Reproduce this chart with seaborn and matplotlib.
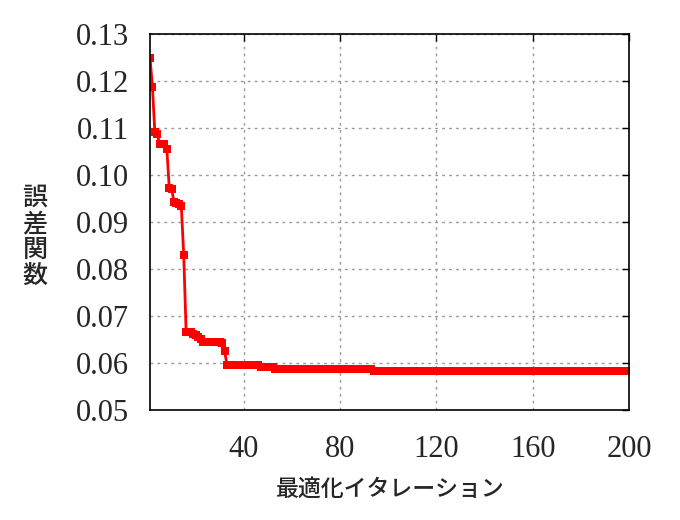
import numpy as np
import pandas as pd
import matplotlib
matplotlib.use("Agg")
import matplotlib.pyplot as plt
import seaborn as sns

## Error value per optimisation iteration (run-length form)
levels = [0.1250, 0.1188, 0.1092, 0.1088, 0.1065, 0.1055, 0.0972, 0.0970,
          0.0942, 0.0940, 0.0938, 0.0935, 0.0830, 0.0667, 0.0665, 0.0662,
          0.0660, 0.0655, 0.0652, 0.0645, 0.0643, 0.0625, 0.0596, 0.0591,
          0.0588, 0.0584]
runs = [1, 1, 1, 1, 3, 1, 1, 1,
        1, 1, 1, 1, 1, 2, 1, 1,
        1, 1, 1, 8, 1, 1, 14, 6,
        41, 107]
errors = np.repeat(levels, runs)
iterations = np.arange(1, len(errors) + 1)

x_ticks = [40, 80, 120, 160, 200]
y_ticks = [0.05, 0.06, 0.07, 0.08, 0.09, 0.10, 0.11, 0.12, 0.13]
x_label = "最適化イタレーション"
y_label = "誤差関数"

df = pd.DataFrame({"iteration": iterations, "error": errors})

sns.set_theme(style="white")
plt.rcParams["font.family"] = ["Liberation Serif", "DejaVu Serif"]
plt.rcParams["xtick.direction"] = "in"
plt.rcParams["ytick.direction"] = "in"

fig = plt.figure(figsize=(6.8, 5.2), dpi=100)
ax = fig.add_axes([0.2206, 0.2115, 0.7044, 0.7231])

sns.lineplot(data=df, x="iteration", y="error", ax=ax, color="#ff0000",
             linewidth=2, marker="s", markersize=5.5,
             markeredgewidth=0, markerfacecolor="#ff0000")

ax.set_xlim(1, 200)
ax.set_ylim(0.05, 0.13)
ax.set_xticks(x_ticks)
ax.set_yticks(y_ticks)
ax.set_xticklabels([str(t) for t in x_ticks])
ax.set_yticklabels([f"{t:.2f}" for t in y_ticks])
ax.tick_params(axis="both", which="both", labelsize=22, length=5, width=1,
               color="black", top=True, right=True)
ax.tick_params(axis="y", pad=15)
ax.tick_params(axis="x", pad=18)
for s in ax.spines.values():
    s.set_color("black")
    s.set_linewidth(1.2)
ax.grid(True, color="#999999", linestyle=(0, (2, 3)), linewidth=1)
ax.set_xlabel("")
ax.set_ylabel("")

cjk = ["Noto Sans CJK JP", "DejaVu Sans"]
fig.text(390 / 680, 1 - 489 / 520, x_label, ha="center", va="center",
         fontsize=16.5, family=cjk, weight="medium")
fig.text(35 / 680, 1 - 237 / 520, "\n".join(y_label), ha="center", va="center",
         fontsize=18, family=cjk, weight="medium", linespacing=1.0)

fig.savefig("out.png", dpi=100)
